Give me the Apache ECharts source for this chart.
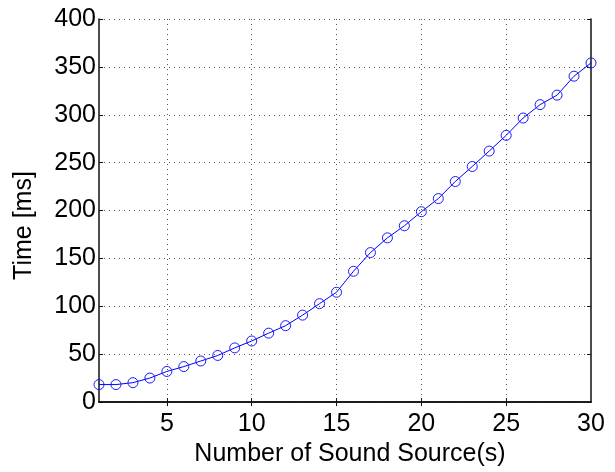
<!DOCTYPE html>
<html>
<head>
<meta charset="utf-8">
<script src="https://cdn.jsdelivr.net/npm/echarts@6/dist/echarts.min.js"></script>
<style>html,body{margin:0;padding:0;background:#fff}#c{width:615px;height:472px}</style>
</head>
<body>
<div id="c"></div>
<script>
const sources = [1,2,3,4,5,6,7,8,9,10,11,12,13,14,15,16,17,18,19,20,21,22,23,24,25,26,27,28,29,30];
const timeMs = [18.3,18.3,20.3,25.1,32,37.1,42.9,48.7,56.6,63.8,72,79.8,90.8,102.8,114.7,136.6,156.1,171.5,184.1,198.8,212.5,230.3,246,262.1,278.5,296.6,310.6,320.5,340.3,354.1];
const xTicks = [5,10,15,20,25,30];
const xGridTicks = [5,10,15,20,25];
const yTicks = [0,50,100,150,200,250,300,350,400];

const font = 'Liberation Sans, Arial, Helvetica, sans-serif';
const chart = echarts.init(document.getElementById('c'), null, {renderer:'canvas'});
const axisLine = {show:true, lineStyle:{color:'#111', width:1.5}};
const gridLine = {show:true, lineStyle:{color:'#555', width:1, type:[1,4]}};
chart.setOption({
  animation:false,
  backgroundColor:'#fff',
  grid:{left:99, right:24, top:19, bottom:63.5, containLabel:false},
  xAxis:[{
    type:'value', min:1, max:30, position:'bottom',
    name:'Number of Sound Source(s)', nameLocation:'middle', nameGap:34,
    nameTextStyle:{fontFamily:font, fontSize:25, color:'#000', padding:[0,0,0,10]},
    axisLine:axisLine,
    axisTick:{show:true, inside:true, length:4, customValues:xGridTicks, lineStyle:{color:'#111'}},
    axisLabel:{show:true, customValues:xTicks, fontFamily:font, fontSize:25, color:'#000', margin:10},
    splitLine:{show:false}
  },{
    type:'value', min:1, max:30, position:'top',
    axisLine:axisLine,
    axisTick:{show:true, inside:true, length:4, customValues:xGridTicks, lineStyle:{color:'#111'}},
    axisLabel:{show:false},
    splitLine:{show:false}
  },{
    type:'value', min:1, max:30, position:'bottom', show:true,
    axisLine:{show:false}, axisTick:{show:false, customValues:xGridTicks}, axisLabel:{show:false, customValues:xGridTicks},
    splitLine:gridLine
  }],
  yAxis:[{
    type:'value', min:0, max:400, interval:50, position:'left',
    name:'Time [ms]', nameLocation:'middle', nameGap:62, nameRotate:90,
    nameTextStyle:{fontFamily:font, fontSize:25, color:'#000', padding:[0,30,0,0]},
    axisLine:axisLine,
    axisTick:{show:true, inside:true, length:4, lineStyle:{color:'#111'}},
    axisLabel:{show:true, fontFamily:font, fontSize:25, color:'#000', margin:3},
    splitLine:gridLine
  },{
    type:'value', min:0, max:400, interval:50, position:'right',
    axisLine:axisLine,
    axisTick:{show:true, inside:true, length:4, lineStyle:{color:'#111'}},
    axisLabel:{show:false},
    splitLine:{show:false}
  }],
  series:[{
    type:'line',
    xAxisIndex:0, yAxisIndex:0,
    data:sources.map((s,i)=>[s,timeMs[i]]),
    symbol:'circle', symbolSize:10,
    lineStyle:{color:'#0000ff', width:1},
    itemStyle:{color:'rgba(0,0,0,0)', borderColor:'#1a1aff', borderWidth:1},
    clip:false
  }]
});
</script>
</body>
</html>
